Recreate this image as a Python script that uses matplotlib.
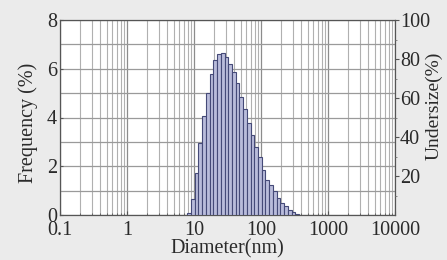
import matplotlib
matplotlib.use("Agg")
import numpy as np
import matplotlib.pyplot as plt
from matplotlib.ticker import FixedLocator, NullFormatter, LogLocator

# === DATOS ===
# bordes de los intervalos (nm), 18 por década
bin_edges = [7.943, 9.027, 10.26, 11.66, 13.25, 15.06, 17.11, 19.45, 22.10, 25.12,
             28.55, 32.44, 36.87, 41.90, 47.62, 54.12, 61.50, 69.89, 79.43, 90.27,
             102.6, 116.6, 132.5, 150.6, 171.1, 194.5, 221.0, 251.2, 285.5, 324.4,
             368.7]
frequency = [0.08, 0.65, 1.72, 2.95, 4.06, 5.0, 5.8, 6.35, 6.6, 6.63,
             6.5, 6.2, 5.87, 5.4, 4.85, 4.34, 3.77, 3.28, 2.8, 2.37,
             1.85, 1.45, 1.25, 1.0, 0.7, 0.5, 0.35, 0.22, 0.12, 0.05]

x_ticks = [0.1, 1, 10, 100, 1000, 10000]
x_labels = ["0.1", "1", "10", "100", "1000", "10000"]
y_ticks = [0, 2, 4, 6, 8]
y2_ticks = [20, 40, 60, 80, 100]

plt.rcParams['font.family'] = ['Liberation Serif', 'DejaVu Serif']
TXT = '#2a2a2a'
FS = 14.5

fig = plt.figure(figsize=(4.47, 2.6), dpi=100, facecolor='#ebebeb')
ax = fig.add_axes([60 / 447, 45 / 260, 335 / 447, 195 / 260])
ax.set_facecolor('white')

ax.set_xscale('log')
ax.set_xlim(0.1, 10000)
ax.set_ylim(0, 8)

# rejilla
ax.xaxis.set_major_locator(FixedLocator(x_ticks))
ax.set_xticklabels(x_labels)
ax.xaxis.set_minor_locator(LogLocator(base=10, subs=np.arange(2, 10)))
ax.xaxis.set_minor_formatter(NullFormatter())
ax.grid(True, which='major', axis='x', color='#8c8c8c', lw=0.9)
ax.grid(True, which='minor', axis='x', color='#b0b0b0', lw=0.8)
ax.set_yticks(y_ticks)
ax.yaxis.set_minor_locator(FixedLocator(np.arange(1, 8, 2)))
ax.grid(True, which='both', axis='y', color='#9a9a9a', lw=0.9)
ax.set_axisbelow(True)

# histograma
edges = np.array(bin_edges)
ax.bar(edges[:-1], frequency, width=np.diff(edges), align='edge',
       color='#b9bcdb', edgecolor='#454a78', lw=0.8, zorder=3)

ax.tick_params(axis='both', which='both', direction='in', colors='#555555',
               labelcolor=TXT, labelsize=FS)
ax.tick_params(axis='x', which='major', length=3, pad=4)
ax.tick_params(axis='x', which='minor', length=1.5)
ax.tick_params(axis='y', which='major', length=2, pad=2)
ax.tick_params(axis='y', which='minor', length=0)
for s in ax.spines.values():
    s.set_color('#555555')
    s.set_linewidth(0.9)

ax.set_xlabel("Diameter(nm)", fontsize=FS, color=TXT)
ax.xaxis.set_label_coords(0.5, -0.125)
ax.set_ylabel("Frequency (%)", fontsize=FS, color=TXT)
ax.yaxis.set_label_coords(-0.067, 0.47)

# eje derecho (Undersize)
ax2 = ax.twinx()
ax2.set_ylim(0, 100)
ax2.set_yticks(y2_ticks)
ax2.yaxis.set_minor_locator(FixedLocator([10, 30, 50, 70, 90]))
ax2.tick_params(axis='y', which='major', direction='out', length=3, pad=0.5,
                colors='#555555', labelcolor=TXT, labelsize=FS)
ax2.tick_params(axis='y', which='minor', direction='out', length=1.5, colors='#777777')
for s in ax2.spines.values():
    s.set_visible(False)
ax2.set_ylabel("Undersize(%)", fontsize=14, color=TXT)
ax2.yaxis.set_label_coords(1.09, 0.56)

fig.savefig("out.png", dpi=100, facecolor=fig.get_facecolor())
